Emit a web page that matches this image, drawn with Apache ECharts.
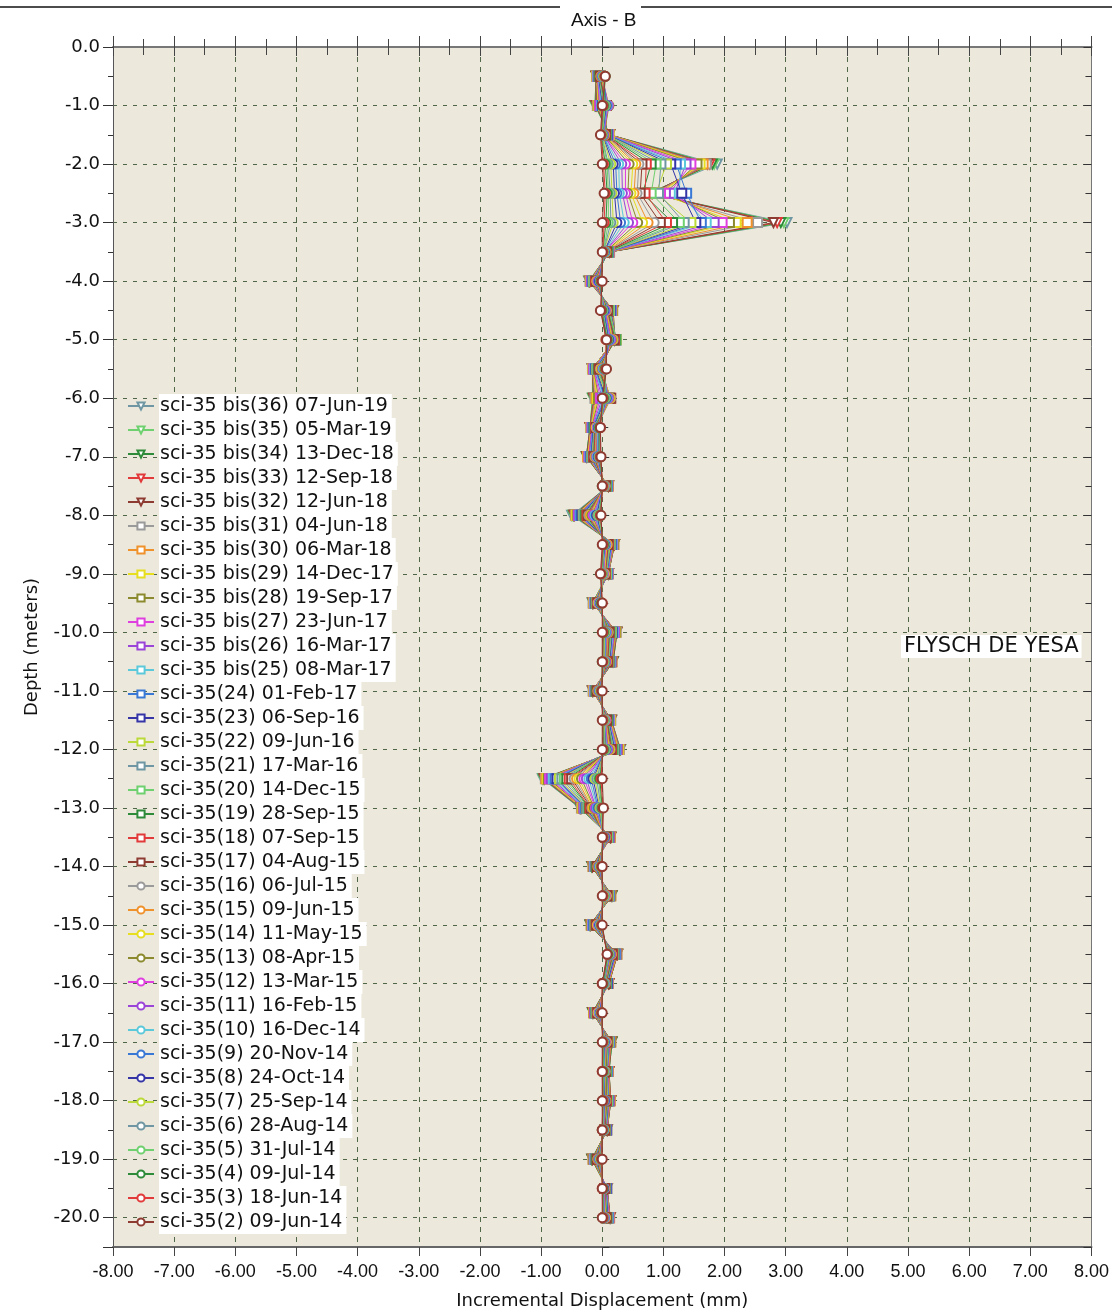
<!DOCTYPE html>
<html>
<head>
<meta charset="utf-8">
<script src="https://cdn.jsdelivr.net/npm/echarts@6/dist/echarts.min.js"></script>
<style>
  html, body { margin: 0; padding: 0; background: #fff; }
  #chart { width: 1112px; height: 1315px; }
</style>
</head>
<body>
<div id="chart"></div>
<script>
// depth below the top of the casing (m); the axis shows them as negative
const depths = [0.5, 1.0, 1.5, 2.0, 2.5, 3.0, 3.5, 4.0, 4.5, 5.0,
    5.5, 6.0, 6.5, 7.0, 7.5, 8.0, 8.5, 9.0, 9.5, 10.0,
    10.5, 11.0, 11.5, 12.0, 12.5, 13.0, 13.5, 14.0, 14.5, 15.0,
    15.5, 16.0, 16.5, 17.0, 17.5, 18.0, 18.5, 19.0, 19.5, 20.0]

// survey names, oldest first
const surveyNames = [
    "sci-35(2) 09-Jun-14", "sci-35(3) 18-Jun-14", "sci-35(4) 09-Jul-14", "sci-35(5) 31-Jul-14",
    "sci-35(6) 28-Aug-14", "sci-35(7) 25-Sep-14", "sci-35(8) 24-Oct-14", "sci-35(9) 20-Nov-14",
    "sci-35(10) 16-Dec-14", "sci-35(11) 16-Feb-15", "sci-35(12) 13-Mar-15", "sci-35(13) 08-Apr-15",
    "sci-35(14) 11-May-15", "sci-35(15) 09-Jun-15", "sci-35(16) 06-Jul-15", "sci-35(17) 04-Aug-15",
    "sci-35(18) 07-Sep-15", "sci-35(19) 28-Sep-15", "sci-35(20) 14-Dec-15", "sci-35(21) 17-Mar-16",
    "sci-35(22) 09-Jun-16", "sci-35(23) 06-Sep-16", "sci-35(24) 01-Feb-17", "sci-35 bis(25) 08-Mar-17",
    "sci-35 bis(26) 16-Mar-17", "sci-35 bis(27) 23-Jun-17", "sci-35 bis(28) 19-Sep-17", "sci-35 bis(29) 14-Dec-17",
    "sci-35 bis(30) 06-Mar-18", "sci-35 bis(31) 04-Jun-18", "sci-35 bis(32) 12-Jun-18", "sci-35 bis(33) 12-Sep-18",
    "sci-35 bis(34) 13-Dec-18", "sci-35 bis(35) 05-Mar-19", "sci-35 bis(36) 07-Jun-19",
]

// incremental displacement (mm) at each depth, one array per survey
const s02 = [0.05, 0.00, -0.03, 0.00, 0.03, 0.00, 0.00, 0.00, -0.03, 0.07, 0.07, 0.00, -0.03, -0.02, 0.00, -0.02, 0.00, -0.03, 0.00, 0.00, 0.00, 0.00, 0.00, 0.00, 0.00, 0.02, 0.00, 0.00, 0.00, 0.00, 0.08, 0.00, 0.00, 0.00, 0.00, 0.00, 0.00, 0.00, 0.00, 0.00]
const s03 = [0.04, 0.01, -0.02, 0.02, 0.05, 0.03, 0.01, -0.01, -0.02, 0.06, 0.06, 0.01, -0.03, -0.03, 0.01, -0.03, 0.01, -0.02, 0.00, 0.01, 0.01, -0.01, 0.01, 0.01, -0.02, 0.01, 0.01, -0.01, 0.01, -0.01, 0.08, 0.00, -0.01, 0.01, 0.00, 0.01, 0.00, -0.01, 0.00, 0.01]
const s04 = [0.05, 0.02, -0.02, 0.05, 0.08, 0.06, 0.01, -0.02, -0.01, 0.08, 0.05, 0.02, -0.04, -0.03, 0.00, -0.03, 0.02, -0.02, -0.01, 0.02, 0.00, -0.01, 0.01, 0.02, -0.04, 0.00, 0.01, -0.01, 0.01, -0.01, 0.09, 0.01, -0.01, 0.01, 0.01, 0.01, 0.00, -0.01, 0.01, 0.01]
const s05 = [0.03, 0.03, -0.01, 0.08, 0.10, 0.10, 0.02, -0.02, 0.00, 0.06, 0.06, 0.03, -0.04, -0.04, 0.01, -0.05, 0.02, -0.01, -0.01, 0.02, 0.02, -0.02, 0.02, 0.03, -0.06, -0.01, 0.01, -0.02, 0.02, -0.02, 0.09, 0.01, -0.02, 0.02, 0.01, 0.01, 0.01, -0.02, 0.01, 0.01]
const s06 = [0.03, 0.04, -0.01, 0.10, 0.13, 0.14, 0.02, -0.03, 0.01, 0.08, 0.05, 0.04, -0.05, -0.05, 0.01, -0.06, 0.03, -0.01, -0.02, 0.03, 0.02, -0.02, 0.02, 0.04, -0.09, -0.02, 0.02, -0.02, 0.02, -0.03, 0.10, 0.02, -0.02, 0.02, 0.01, 0.02, 0.01, -0.02, 0.01, 0.02]
const s07 = [0.02, 0.05, 0.00, 0.14, 0.16, 0.18, 0.02, -0.03, 0.01, 0.09, 0.04, 0.05, -0.05, -0.05, 0.02, -0.07, 0.03, 0.00, -0.02, 0.04, 0.03, -0.03, 0.03, 0.05, -0.12, -0.04, 0.02, -0.03, 0.03, -0.03, 0.11, 0.02, -0.02, 0.02, 0.02, 0.02, 0.01, -0.03, 0.01, 0.02]
const s08 = [0.02, 0.06, 0.00, 0.18, 0.20, 0.24, 0.03, -0.04, 0.02, 0.10, 0.04, 0.06, -0.06, -0.06, 0.02, -0.09, 0.04, 0.00, -0.03, 0.04, 0.03, -0.03, 0.03, 0.06, -0.15, -0.05, 0.03, -0.03, 0.03, -0.04, 0.11, 0.02, -0.03, 0.03, 0.02, 0.03, 0.01, -0.03, 0.02, 0.02]
const s09 = [0.01, 0.07, 0.01, 0.22, 0.24, 0.30, 0.03, -0.05, 0.03, 0.11, 0.03, 0.07, -0.06, -0.07, 0.02, -0.10, 0.04, 0.00, -0.03, 0.05, 0.04, -0.04, 0.03, 0.06, -0.18, -0.07, 0.03, -0.04, 0.03, -0.04, 0.12, 0.02, -0.03, 0.03, 0.02, 0.03, 0.02, -0.04, 0.02, 0.03]
const s10 = [0.01, 0.08, 0.01, 0.27, 0.28, 0.36, 0.04, -0.05, 0.03, 0.12, 0.02, 0.08, -0.07, -0.08, 0.03, -0.12, 0.05, 0.01, -0.04, 0.06, 0.04, -0.04, 0.04, 0.07, -0.22, -0.08, 0.03, -0.04, 0.04, -0.05, 0.12, 0.03, -0.04, 0.04, 0.03, 0.03, 0.02, -0.04, 0.02, 0.03]
const s11 = [0.00, 0.09, 0.02, 0.32, 0.33, 0.43, 0.04, -0.06, 0.04, 0.13, 0.02, 0.09, -0.07, -0.08, 0.03, -0.13, 0.05, 0.01, -0.04, 0.06, 0.05, -0.05, 0.04, 0.08, -0.26, -0.10, 0.04, -0.05, 0.04, -0.05, 0.13, 0.03, -0.04, 0.04, 0.03, 0.04, 0.02, -0.05, 0.02, 0.03]
const s12 = [0.00, 0.10, 0.02, 0.38, 0.38, 0.50, 0.04, -0.07, 0.05, 0.14, 0.01, 0.10, -0.08, -0.09, 0.03, -0.15, 0.06, 0.02, -0.05, 0.07, 0.05, -0.05, 0.05, 0.09, -0.30, -0.11, 0.04, -0.05, 0.05, -0.06, 0.13, 0.03, -0.05, 0.05, 0.03, 0.04, 0.02, -0.05, 0.03, 0.04]
const s13 = [-0.01, 0.11, 0.03, 0.44, 0.42, 0.58, 0.05, -0.07, 0.05, 0.15, 0.00, 0.11, -0.08, -0.10, 0.04, -0.17, 0.06, 0.02, -0.05, 0.08, 0.06, -0.06, 0.05, 0.10, -0.34, -0.13, 0.05, -0.06, 0.05, -0.06, 0.14, 0.04, -0.05, 0.05, 0.04, 0.05, 0.03, -0.06, 0.03, 0.04]
const s14 = [-0.01, 0.10, 0.03, 0.50, 0.47, 0.66, 0.05, -0.08, 0.06, 0.16, -0.01, 0.12, -0.09, -0.10, 0.04, -0.18, 0.07, 0.03, -0.06, 0.08, 0.06, -0.06, 0.05, 0.11, -0.38, -0.14, 0.05, -0.06, 0.06, -0.07, 0.14, 0.04, -0.06, 0.06, 0.04, 0.05, 0.03, -0.06, 0.03, 0.05]
const s15 = [-0.02, 0.09, 0.04, 0.55, 0.52, 0.75, 0.06, -0.09, 0.06, 0.17, -0.02, 0.13, -0.09, -0.11, 0.04, -0.20, 0.08, 0.03, -0.06, 0.09, 0.07, -0.07, 0.06, 0.12, -0.42, -0.16, 0.05, -0.07, 0.06, -0.08, 0.15, 0.04, -0.06, 0.06, 0.04, 0.05, 0.03, -0.07, 0.03, 0.05]
const s16 = [-0.02, 0.08, 0.04, 0.60, 0.57, 0.85, 0.06, -0.09, 0.07, 0.18, -0.03, 0.14, -0.10, -0.12, 0.05, -0.22, 0.08, 0.04, -0.07, 0.10, 0.07, -0.07, 0.06, 0.13, -0.46, -0.17, 0.06, -0.07, 0.07, -0.08, 0.15, 0.05, -0.07, 0.07, 0.05, 0.06, 0.03, -0.07, 0.04, 0.05]
const s17 = [-0.03, 0.07, 0.05, 0.65, 0.62, 0.95, 0.07, -0.10, 0.08, 0.19, -0.04, 0.14, -0.10, -0.13, 0.05, -0.23, 0.09, 0.04, -0.07, 0.10, 0.08, -0.08, 0.07, 0.14, -0.50, -0.18, 0.06, -0.08, 0.07, -0.09, 0.16, 0.05, -0.07, 0.07, 0.05, 0.06, 0.04, -0.08, 0.04, 0.06]
const s18 = [-0.03, 0.06, 0.05, 0.72, 0.70, 1.05, 0.07, -0.11, 0.08, 0.20, -0.05, 0.13, -0.11, -0.14, 0.05, -0.25, 0.10, 0.05, -0.08, 0.11, 0.09, -0.08, 0.07, 0.15, -0.54, -0.20, 0.07, -0.08, 0.08, -0.10, 0.17, 0.05, -0.08, 0.08, 0.05, 0.07, 0.04, -0.08, 0.04, 0.06]
const s19 = [-0.04, 0.05, 0.06, 0.80, 0.66, 1.15, 0.08, -0.11, 0.09, 0.21, -0.06, 0.12, -0.12, -0.14, 0.06, -0.27, 0.10, 0.05, -0.08, 0.12, 0.09, -0.09, 0.08, 0.16, -0.58, -0.21, 0.07, -0.09, 0.08, -0.10, 0.17, 0.06, -0.08, 0.08, 0.06, 0.07, 0.04, -0.09, 0.04, 0.07]
const s20 = [-0.04, 0.04, 0.06, 0.88, 0.80, 1.26, 0.08, -0.12, 0.10, 0.22, -0.07, 0.11, -0.12, -0.15, 0.06, -0.28, 0.11, 0.06, -0.09, 0.13, 0.10, -0.09, 0.08, 0.17, -0.62, -0.22, 0.08, -0.09, 0.09, -0.11, 0.18, 0.06, -0.09, 0.09, 0.06, 0.08, 0.05, -0.09, 0.05, 0.07]
const s21 = [-0.05, 0.03, 0.07, 0.96, 0.92, 1.34, 0.08, -0.13, 0.11, 0.22, -0.08, 0.10, -0.13, -0.16, 0.06, -0.30, 0.12, 0.06, -0.09, 0.14, 0.10, -0.10, 0.09, 0.18, -0.66, -0.24, 0.08, -0.10, 0.09, -0.12, 0.19, 0.07, -0.09, 0.09, 0.06, 0.08, 0.05, -0.10, 0.05, 0.08]
const s22 = [-0.05, 0.02, 0.07, 1.05, 0.88, 1.45, 0.09, -0.14, 0.12, 0.23, -0.09, 0.08, -0.13, -0.17, 0.07, -0.31, 0.13, 0.07, -0.10, 0.15, 0.11, -0.10, 0.09, 0.19, -0.70, -0.25, 0.09, -0.10, 0.10, -0.12, 0.19, 0.07, -0.10, 0.10, 0.07, 0.09, 0.05, -0.10, 0.05, 0.08]
const s23 = [-0.06, 0.01, 0.08, 1.12, 1.30, 1.53, 0.09, -0.15, 0.13, 0.23, -0.10, 0.06, -0.14, -0.18, 0.07, -0.33, 0.14, 0.07, -0.11, 0.16, 0.12, -0.11, 0.10, 0.20, -0.74, -0.26, 0.09, -0.11, 0.10, -0.13, 0.20, 0.08, -0.10, 0.10, 0.07, 0.09, 0.06, -0.11, 0.06, 0.09]
const s24 = [-0.06, 0.00, 0.08, 1.21, 1.38, 1.62, 0.10, -0.15, 0.13, 0.22, -0.11, 0.04, -0.15, -0.19, 0.08, -0.35, 0.15, 0.08, -0.11, 0.17, 0.12, -0.11, 0.10, 0.21, -0.77, -0.27, 0.10, -0.11, 0.11, -0.14, 0.21, 0.08, -0.11, 0.11, 0.08, 0.10, 0.06, -0.11, 0.06, 0.09]
const s25 = [-0.07, -0.01, 0.09, 1.28, 1.26, 1.70, 0.10, -0.16, 0.14, 0.22, -0.12, 0.02, -0.15, -0.20, 0.08, -0.36, 0.16, 0.08, -0.12, 0.18, 0.13, -0.12, 0.11, 0.22, -0.80, -0.28, 0.10, -0.12, 0.11, -0.15, 0.21, 0.08, -0.11, 0.11, 0.08, 0.10, 0.06, -0.12, 0.06, 0.10]
const s26 = [-0.07, -0.02, 0.09, 1.37, 1.18, 1.83, 0.10, -0.17, 0.15, 0.21, -0.13, 0.00, -0.16, -0.21, 0.08, -0.38, 0.16, 0.09, -0.12, 0.19, 0.14, -0.12, 0.11, 0.23, -0.83, -0.29, 0.11, -0.12, 0.12, -0.15, 0.22, 0.09, -0.12, 0.12, 0.08, 0.11, 0.06, -0.12, 0.07, 0.10]
const s27 = [-0.08, -0.04, 0.10, 1.45, 1.10, 1.96, 0.11, -0.18, 0.15, 0.21, -0.14, -0.03, -0.17, -0.22, 0.09, -0.39, 0.17, 0.09, -0.13, 0.20, 0.14, -0.13, 0.12, 0.24, -0.86, -0.30, 0.11, -0.13, 0.12, -0.16, 0.22, 0.09, -0.12, 0.12, 0.09, 0.11, 0.07, -0.13, 0.07, 0.11]
const s28 = [-0.08, -0.05, 0.10, 1.55, 1.02, 2.08, 0.11, -0.18, 0.16, 0.20, -0.14, -0.06, -0.17, -0.22, 0.09, -0.40, 0.18, 0.09, -0.13, 0.21, 0.15, -0.13, 0.12, 0.25, -0.88, -0.31, 0.12, -0.14, 0.13, -0.17, 0.23, 0.09, -0.13, 0.13, 0.09, 0.12, 0.07, -0.14, 0.07, 0.11]
const s29 = [-0.09, -0.06, 0.11, 1.60, 0.95, 2.19, 0.11, -0.19, 0.16, 0.20, -0.15, -0.08, -0.18, -0.23, 0.09, -0.42, 0.18, 0.09, -0.14, 0.21, 0.15, -0.14, 0.13, 0.26, -0.90, -0.32, 0.12, -0.14, 0.13, -0.17, 0.23, 0.10, -0.13, 0.13, 0.09, 0.12, 0.07, -0.14, 0.07, 0.11]
const s30 = [-0.09, -0.07, 0.11, 1.65, 0.90, 2.37, 0.11, -0.19, 0.17, 0.20, -0.15, -0.10, -0.18, -0.24, 0.10, -0.43, 0.19, 0.09, -0.14, 0.22, 0.16, -0.14, 0.13, 0.27, -0.92, -0.33, 0.13, -0.15, 0.14, -0.18, 0.24, 0.10, -0.14, 0.14, 0.10, 0.13, 0.07, -0.15, 0.07, 0.12]
const s31 = [-0.09, -0.08, 0.11, 1.70, 0.85, 2.54, 0.12, -0.20, 0.17, 0.20, -0.16, -0.12, -0.19, -0.24, 0.10, -0.44, 0.19, 0.10, -0.15, 0.23, 0.16, -0.15, 0.14, 0.28, -0.93, -0.34, 0.13, -0.15, 0.14, -0.18, 0.24, 0.10, -0.14, 0.14, 0.10, 0.13, 0.08, -0.15, 0.08, 0.12]
const s32 = [-0.10, -0.09, 0.12, 1.72, 0.82, 2.80, 0.12, -0.20, 0.17, 0.20, -0.16, -0.13, -0.19, -0.25, 0.10, -0.45, 0.19, 0.10, -0.15, 0.23, 0.17, -0.15, 0.14, 0.28, -0.94, -0.34, 0.13, -0.16, 0.15, -0.19, 0.24, 0.10, -0.15, 0.15, 0.10, 0.13, 0.08, -0.16, 0.08, 0.12]
const s33 = [-0.10, -0.10, 0.12, 1.76, 0.80, 2.86, 0.12, -0.21, 0.18, 0.20, -0.16, -0.14, -0.20, -0.25, 0.10, -0.46, 0.20, 0.10, -0.15, 0.24, 0.17, -0.16, 0.15, 0.29, -0.95, -0.35, 0.14, -0.16, 0.15, -0.19, 0.25, 0.11, -0.15, 0.15, 0.11, 0.14, 0.08, -0.16, 0.08, 0.13]
const s34 = [-0.10, -0.11, 0.12, 1.80, 0.78, 2.92, 0.12, -0.21, 0.18, 0.20, -0.16, -0.15, -0.20, -0.26, 0.10, -0.47, 0.20, 0.10, -0.16, 0.24, 0.18, -0.16, 0.15, 0.29, -0.96, -0.36, 0.14, -0.17, 0.16, -0.20, 0.25, 0.11, -0.16, 0.16, 0.11, 0.14, 0.08, -0.17, 0.08, 0.13]
const s35 = [-0.10, -0.12, 0.12, 1.83, 0.76, 2.97, 0.12, -0.22, 0.18, 0.20, -0.16, -0.16, -0.20, -0.26, 0.10, -0.48, 0.20, 0.10, -0.16, 0.24, 0.18, -0.16, 0.15, 0.30, -0.97, -0.36, 0.14, -0.17, 0.16, -0.20, 0.25, 0.11, -0.16, 0.16, 0.11, 0.14, 0.08, -0.17, 0.08, 0.13]
const s36 = [-0.10, -0.12, 0.12, 1.88, 0.75, 3.02, 0.12, -0.22, 0.18, 0.20, -0.16, -0.16, -0.20, -0.26, 0.10, -0.50, 0.20, 0.10, -0.16, 0.24, 0.18, -0.16, 0.15, 0.30, -0.98, -0.37, 0.14, -0.17, 0.16, -0.20, 0.25, 0.11, -0.16, 0.16, 0.11, 0.14, 0.08, -0.17, 0.08, 0.13]

const readings = [s02, s03, s04, s05, s06, s07, s08, s09, s10, s11, s12, s13, s14, s15, s16, s17, s18,
    s19, s20, s21, s22, s23, s24, s25, s26, s27, s28, s29, s30, s31, s32, s33, s34, s35, s36]

// colour cycle of the plotting program (15 colours, then the marker changes)
const palette = ["#8e3b32", "#e23a3a", "#2e8b3a", "#6fd06f", "#6f97a3", "#bcd93a", "#3535a8", "#3a78d6",
    "#5cc9db", "#9b45d8", "#e03fe0", "#8c8a2e", "#e6de1e", "#f0922c", "#9a9a9a"]

const xTicks = [-8, -7, -6, -5, -4, -3, -2, -1, 0, 1, 2, 3, 4, 5, 6, 7, 8]

const gridColor = "#4f6647"
const axisFont = "DejaVu Sans"

function markerFor(index) {
    if (index < 15) return { symbol: "emptyCircle", rotate: 0 }
    if (index < 30) return { symbol: "emptyRect", rotate: 0 }
    return { symbol: "emptyTriangle", rotate: 180 }
}

// newest survey first, so the oldest ones end up drawn on top
const series = []
for (let i = readings.length - 1; i >= 0; i--) {
    const marker = markerFor(i)
    const color = palette[i % palette.length]
    series.push({
        name: surveyNames[i],
        type: "line",
        xAxisIndex: 0,
        yAxisIndex: 0,
        symbol: marker.symbol,
        symbolRotate: marker.rotate,
        symbolSize: 9,
        showAllSymbol: true,
        animation: false,
        lineStyle: { width: 1, color },
        itemStyle: { color, borderWidth: 1 },
        emphasis: { disabled: true },
        data: readings[i].map((v, j) => [v, depths[j]]),
    })
}

const chart = echarts.init(document.getElementById("chart"), null, { renderer: "canvas" })

chart.setOption({
    backgroundColor: "#ffffff",
    animation: false,
    title: {
        text: "Axis - B",
        left: 566,
        top: 6,
        textStyle: { fontFamily: "Liberation Sans", fontSize: 19, fontWeight: "normal", color: "#111" },
    },
    grid: {
        left: 113,
        right: 19,
        top: 47,
        bottom: 67,
        show: true,
        backgroundColor: "#ece8dc",
        borderWidth: 0,
    },
    legend: {
        orient: "vertical",
        left: 122,
        top: 389,
        itemWidth: 26,
        itemHeight: 9,
        itemGap: 0,
        selectedMode: false,
        data: surveyNames.slice().reverse(),
        textStyle: {
            fontFamily: axisFont,
            fontSize: 19,
            color: "#111",
            backgroundColor: "#ffffff",
            padding: [1, 4, 1, 1],
            lineHeight: 22,
        },
    },
    xAxis: [
        {
            type: "value",
            position: "bottom",
            min: xTicks[0],
            max: xTicks[xTicks.length - 1],
            interval: 1,
            name: "Incremental Displacement (mm)",
            nameLocation: "middle",
            nameGap: 45,
            nameTextStyle: { fontFamily: axisFont, fontSize: 18, color: "#111" },
            axisLine: { show: true, onZero: false, lineStyle: { color: "#666", width: 2 } },
            axisTick: { show: true, inside: false, length: 9, lineStyle: { color: "#444" } },
            axisLabel: {
                fontFamily: "Liberation Sans",
                fontSize: 18,
                color: "#111",
                margin: 16,
                formatter: v => v.toFixed(2),
            },
            splitLine: { show: true, lineStyle: { color: gridColor, type: [5, 5], width: 1 } },
        },
        {
            type: "value",
            position: "bottom",
            min: xTicks[0],
            max: xTicks[xTicks.length - 1],
            interval: 1,
            axisLine: { show: false },
            axisTick: { show: true, inside: true, length: 11, lineStyle: { color: "#444" } },
            minorTick: { show: true, splitNumber: 2, length: 8, lineStyle: { color: "#444" } },
            axisLabel: { show: false },
            splitLine: { show: false },
        },
        {
            type: "value",
            position: "top",
            min: xTicks[0],
            max: xTicks[xTicks.length - 1],
            interval: 1,
            axisLine: { show: true, onZero: false, lineStyle: { color: "#777", width: 2 } },
            axisTick: { show: true, inside: true, length: 9, lineStyle: { color: "#444" } },
            minorTick: { show: true, splitNumber: 2, length: 8, lineStyle: { color: "#444" } },
            axisLabel: { show: false },
            splitLine: { show: false },
        },
    ],
    yAxis: [
        {
            type: "value",
            position: "left",
            inverse: true,
            min: 0,
            max: 20.5,
            interval: 1,
            name: "Depth (meters)",
            nameLocation: "middle",
            nameGap: 72,
            nameTextStyle: { fontFamily: axisFont, fontSize: 18, color: "#111" },
            axisLine: { show: true, onZero: false, lineStyle: { color: "#555", width: 1 } },
            axisTick: { show: true, inside: false, length: 10, lineStyle: { color: "#333" } },
            minorTick: { show: true, splitNumber: 2, length: 5, lineStyle: { color: "#333" } },
            axisLabel: {
                fontFamily: axisFont,
                fontSize: 18,
                color: "#111",
                margin: 13,
                showMaxLabel: false,
                formatter: v => (v === 0 ? "0.0" : "-" + v.toFixed(1)),
            },
            splitLine: { show: true, lineStyle: { color: gridColor, type: [4, 6], width: 1 } },
        },
        {
            type: "value",
            position: "left",
            inverse: true,
            min: 0,
            max: 20.5,
            interval: 1,
            axisLine: { show: false },
            axisTick: { show: true, inside: true, length: 7, lineStyle: { color: "#333" } },
            minorTick: { show: true, splitNumber: 2, length: 6, lineStyle: { color: "#333" } },
            axisLabel: { show: false },
            splitLine: { show: false },
        },
        {
            type: "value",
            position: "right",
            inverse: true,
            min: 0,
            max: 20.5,
            interval: 1,
            axisLine: { show: true, onZero: false, lineStyle: { color: "#777", width: 1 } },
            axisTick: { show: true, inside: true, length: 8, lineStyle: { color: "#333" } },
            minorTick: { show: true, splitNumber: 2, length: 6, lineStyle: { color: "#333" } },
            axisLabel: { show: false },
            splitLine: { show: false },
        },
    ],
    graphic: [
        {
            type: "line",
            shape: { x1: 0, y1: 7, x2: 560, y2: 7 },
            style: { stroke: "#111", lineWidth: 1.5 },
        },
        {
            type: "line",
            shape: { x1: 641, y1: 7, x2: 1112, y2: 7 },
            style: { stroke: "#111", lineWidth: 1.5 },
        },
        {
            type: "text",
            left: 901,
            top: 635,
            z: 10,
            style: {
                text: "FLYSCH DE YESA",
                font: "21px 'DejaVu Sans'",
                fill: "#111",
                backgroundColor: "#ffffff",
                padding: [1, 3, 1, 3],
            },
        },
    ],
    series,
})
</script>
</body>
</html>
